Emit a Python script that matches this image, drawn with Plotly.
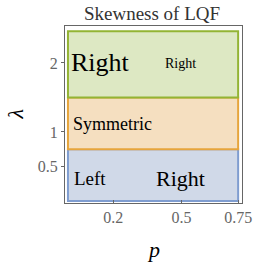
import plotly.graph_objects as go

# Regions (p range and lambda bands)
region_names = ["Left/Right", "Symmetric", "Right"]
p_lo = [0.0, 0.0, 0.0]
p_hi = [0.75, 0.75, 0.75]
lam_lo = [0.0, 0.75, 1.5]
lam_hi = [0.75, 1.5, 2.46]
fills = ["#d0d9e8", "#f5dfc0", "#dde8c3"]
borders = ["#7f9dd0", "#e6a53c", "#93b434"]

# Labels inside regions
label_text = ["Right", "Right", "Symmetric", "Left", "Right"]
label_p = [0.145, 0.496, 0.196, 0.097, 0.496]
label_lam = [2.0, 1.99, 1.12, 0.33, 0.33]
label_size = [26, 14, 18, 19, 22]

x_ticks = [0.2, 0.5, 0.75]
x_tick_text = ["0.2", "0.5", "0.75"]
y_ticks = [0.5, 1, 2]
y_tick_text = ["0.5", "1", "2"]

SERIF = "Liberation Serif"

fig = go.Figure()
shapes = []
for x0, x1, y0, y1, fc, bc in zip(p_lo, p_hi, lam_lo, lam_hi, fills, borders):
    shapes.append(dict(type="rect", xref="x", yref="y", x0=x0, x1=x1, y0=y0, y1=y1,
                       fillcolor=fc, line=dict(color=bc, width=2), layer="below"))

annotations = []
for t, px, ly, s in zip(label_text, label_p, label_lam, label_size):
    annotations.append(dict(text=t, x=px, y=ly, xref="x", yref="y", showarrow=False,
                            font=dict(family=SERIF, size=s, color="#000000"),
                            xanchor="center", yanchor="middle"))

# axis titles
annotations.append(dict(text="<i>λ</i>", x=(15 - 65) / (242 - 65), y=0.5,
                        xref="paper", yref="paper", xanchor="center", yanchor="middle",
                        showarrow=False, textangle=-90,
                        font=dict(family=SERIF, size=22, color="#000000")))
annotations.append(dict(text="<i>p</i>", x=0.5, y=-(250 - 203) / (203 - 26),
                        xref="paper", yref="paper", xanchor="center", yanchor="middle",
                        showarrow=False,
                        font=dict(family=SERIF, size=22, color="#000000")))

fig.add_trace(go.Scatter(x=[None], y=[None], showlegend=False, hoverinfo="skip"))

fig.update_layout(
    width=255, height=267, autosize=False,
    font=dict(family=SERIF),
    margin=dict(l=65, r=13, t=26, b=64, autoexpand=False),
    paper_bgcolor="white", plot_bgcolor="white",
    shapes=shapes, annotations=annotations,
    showlegend=False,
    title=dict(text="Skewness of LQF", x=152 / 255, xanchor="center",
               y=1 - 13 / 267, yanchor="middle", yref="container",
               automargin=False,
               font=dict(family=SERIF, size=19, color="#333333")),
    xaxis=dict(range=[-0.013, 0.767], tickvals=x_ticks, ticktext=x_tick_text,
               automargin=False,
               showgrid=False, zeroline=False, showline=True, mirror=True,
               linecolor="#666666", linewidth=1, ticks="inside", ticklen=3,
               tickcolor="#666666",
               tickfont=dict(family=SERIF, size=16, color="#666666")),
    yaxis=dict(range=[-0.03, 2.535], tickvals=y_ticks, ticktext=y_tick_text,
               automargin=False,
               showgrid=False, zeroline=False, showline=True, mirror=True,
               linecolor="#666666", linewidth=1, ticks="outside", ticklen=3,
               tickcolor="#666666",
               tickfont=dict(family=SERIF, size=16, color="#666666")),
)

fig.write_html("out.html", config={"displayModeBar": False},
               post_script="document.body.style.margin='0px';document.body.style.padding='0px';")
